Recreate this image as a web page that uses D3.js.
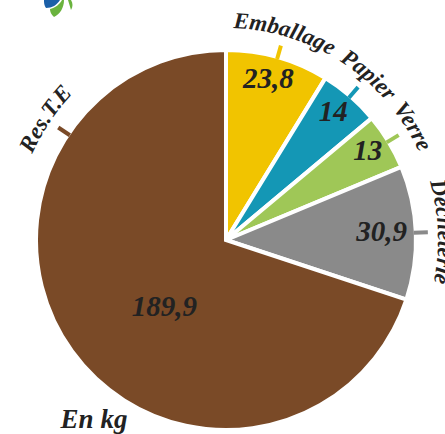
<!DOCTYPE html>
<html>
<head>
<meta charset="utf-8">
<script src="https://cdn.jsdelivr.net/npm/d3@7"></script>
<style>
  body { margin: 0; background: #fff; }
  text { font-family: "Liberation Serif", "DejaVu Serif", serif; font-style: italic; font-weight: bold; fill: #222; }
</style>
</head>
<body>
<script>
var categories = ['Emballage', 'Papier', 'Verre', 'Déchèterie', 'Res.T.E'];
var values = [23.8, 14, 13, 30.9, 189.9];
var valueLabels = ['23,8', '14', '13', '30,9', '189,9'];
var colors = ['#f1c400', '#1497b5', '#9fc757', '#8a8a8a', '#7a4a27'];
var unitLabel = 'En kg';

var width = 445;
var height = 434;
var cx = 226;
var cy = 240;
var radius = 190;

var data = categories.map(function(c, i) {
  return { name: c, value: values[i], label: valueLabels[i], color: colors[i] };
});

var svg = d3.select('body').append('svg')
  .attr('width', width)
  .attr('height', height);

// bits of the logo cut off at the top
var logo = svg.append('g');
logo.append('path')
  .attr('d', 'M44,0 L60,0 C57,5 52,8 46,8 C44,5 44,3 44,0 Z')
  .attr('fill', '#1a5fa8');
logo.append('path')
  .attr('d', 'M50,9 C55,8 60,4 62,0 L64,0 C64,8 60,14 54,17 C51,14 50,12 50,9 Z')
  .attr('fill', '#6ab33e');
logo.append('path')
  .attr('d', 'M68,0 L71,0 C73,3 73,7 71,10 C70,7 69,3 68,0 Z')
  .attr('fill', '#6ab33e');

var g = svg.append('g').attr('transform', 'translate(' + cx + ',' + cy + ')');

var pie = d3.pie().sort(null).value(function(d) { return d.value; });
var arcs = pie(data);

var arc = d3.arc().innerRadius(0).outerRadius(radius);

// the big slice has its name placed up on the left
function labelAngle(d) {
  if (d.data.name === 'Res.T.E') return d.endAngle - 0.98;
  return (d.startAngle + d.endAngle) / 2;
}
function valueAngle(d) {
  return (d.startAngle + d.endAngle) / 2 - (d.data.name === 'Res.T.E' ? 0.19 : 0.02);
}
function valueRadius(d) {
  if (d.data.name === 'Res.T.E') return 90;
  if (d.data.name === 'Déchèterie') return 156;
  return 168;
}
function pt(a, r) {
  return [Math.sin(a) * r, -Math.cos(a) * r];
}

g.selectAll('path.slice')
  .data(arcs)
  .enter().append('path')
  .attr('class', 'slice')
  .attr('d', arc)
  .attr('fill', function(d) { return d.data.color; })
  .attr('stroke', '#fff')
  .attr('stroke-width', 4)
  .attr('stroke-linejoin', 'miter');

// ticks
g.selectAll('line.tick')
  .data(arcs)
  .enter().append('line')
  .attr('class', 'tick')
  .attr('x1', function(d) { return pt(labelAngle(d), radius - 2)[0]; })
  .attr('y1', function(d) { return pt(labelAngle(d), radius - 2)[1]; })
  .attr('x2', function(d) { return pt(labelAngle(d), radius + 12)[0]; })
  .attr('y2', function(d) { return pt(labelAngle(d), radius + 12)[1]; })
  .attr('stroke', function(d) { return d.data.color; })
  .attr('stroke-width', 4);

// curved category names
var rl = radius + 22;
var defs = svg.append('defs');
arcs.forEach(function(d, i) {
  var a = labelAngle(d);
  var s = 0.9;
  var p0 = pt(a - s, rl);
  var p1 = pt(a + s, rl);
  defs.append('path')
    .attr('id', 'lp' + i)
    .attr('d', 'M' + (cx + p0[0]) + ',' + (cy + p0[1]) + ' A' + rl + ',' + rl + ' 0 0 1 ' + (cx + p1[0]) + ',' + (cy + p1[1]));
});

svg.selectAll('text.cat')
  .data(arcs)
  .enter().append('text')
  .attr('class', 'cat')
  .style('font-size', '23px')
  .append('textPath')
  .attr('href', function(d, i) { return '#lp' + i; })
  .attr('startOffset', '50%')
  .attr('text-anchor', 'middle')
  .text(function(d) { return d.data.name; });

// values
g.selectAll('text.val')
  .data(arcs)
  .enter().append('text')
  .attr('class', 'val')
  .attr('x', function(d) { return pt(valueAngle(d), valueRadius(d))[0]; })
  .attr('y', function(d) { return pt(valueAngle(d), valueRadius(d))[1]; })
  .attr('dy', '0.35em')
  .attr('text-anchor', 'middle')
  .style('font-size', '29px')
  .text(function(d) { return d.data.label; });

svg.append('text')
  .attr('x', 94)
  .attr('y', 428)
  .attr('text-anchor', 'middle')
  .style('font-size', '27px')
  .text(unitLabel);
</script>
</body>
</html>
